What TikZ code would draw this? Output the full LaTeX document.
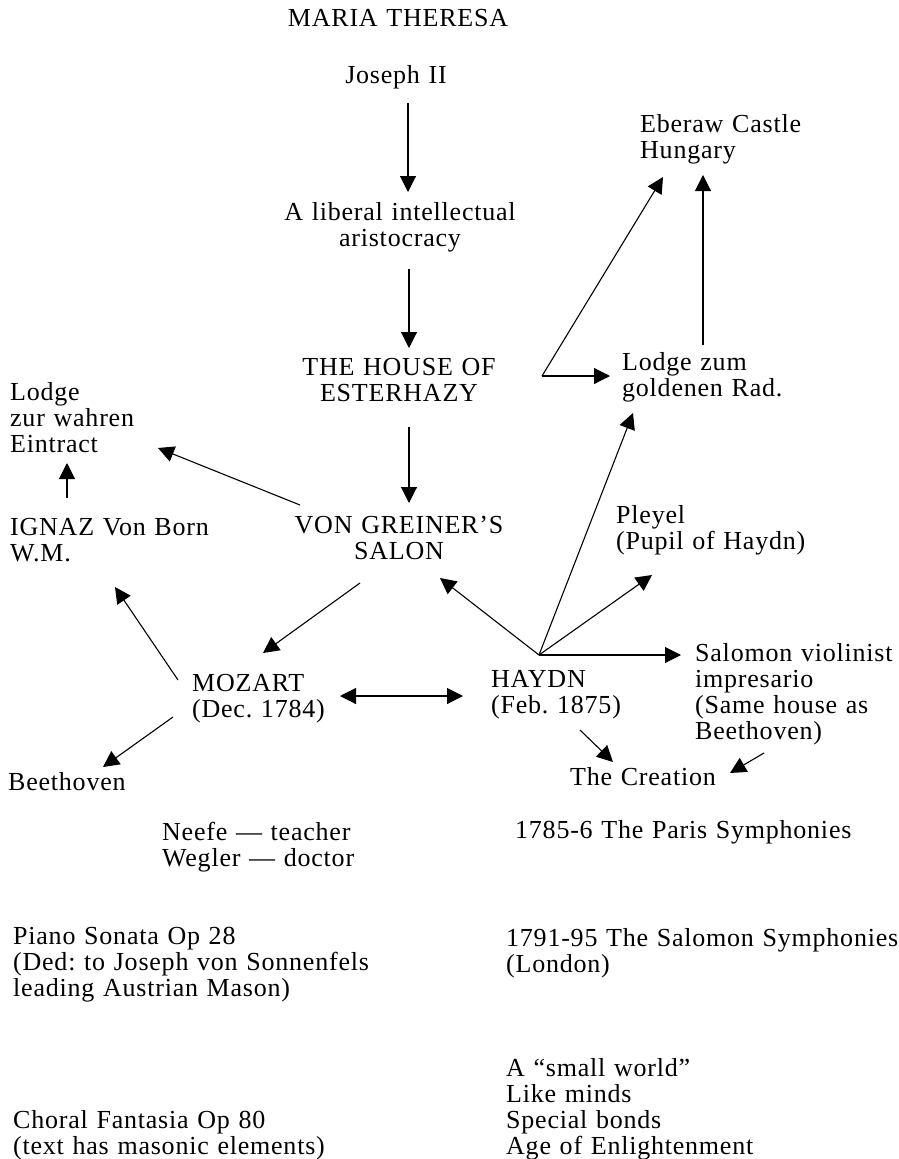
\documentclass[tikz,border=0pt]{standalone}
\usepackage{fontspec}
\setmainfont{Liberation Serif}[LetterSpace=3]
\usetikzlibrary{arrows.meta,calc}
\frenchspacing

\begin{document}
\begin{tikzpicture}[
        x=1pt, y=-1pt,
        font=\fontsize{26}{26}\selectfont,
        entry/.style={anchor=base west, align=left, text width=420pt, inner sep=0pt},
        centred/.style={anchor=base, align=center, text width=300pt, inner sep=0pt},
        link/.style={draw, line width=1.1pt, arrows={-Triangle[length=16pt,width=16pt]}},
        twoway/.style={link, arrows={Triangle[length=16pt,width=16pt]-Triangle[length=16pt,width=16pt]}}
    ]
        \useasboundingbox (0,0) rectangle (898,1159);

        % centre column
        \node[centred] (maria) at (398,27) {MARIA THERESA};
        \node[centred] (joseph) at (396,83) {Joseph II};
        \node[centred] (liberal) at (400,220) {A liberal intellectual\\aristocracy};
        \node[centred] (house) at (399,375) {THE HOUSE OF\\ESTERHAZY};
        \node[centred] (greiner) at (399,533) {VON GREINER'S\\SALON};

        % left side
        \node[entry] (wahren) at (10,400) {Lodge\\zur wahren\\Eintract};
        \node[entry] (ignaz) at (10,535) {IGNAZ Von Born\\W.M.};
        \node[entry] (mozart) at (192,691) {MOZART\\(Dec. 1784)};
        \node[entry] (beethoven) at (8,790) {Beethoven};
        \node[entry] (neefe) at (162,840) {Neefe --- teacher\\Wegler --- doctor};
        \node[entry] (piano) at (13,944) {Piano Sonata Op 28\\(Ded: to Joseph von Sonnenfels\\leading Austrian Mason)};
        \node[entry] (choral) at (13,1128) {Choral Fantasia Op 80\\(text has masonic elements)};

        % right side
        \node[entry] (eberaw) at (640,132) {Eberaw Castle\\Hungary};
        \node[entry] (golden) at (622,370) {Lodge zum\\goldenen Rad.};
        \node[entry] (pleyel) at (616,523) {Pleyel\\(Pupil of Haydn)};
        \node[entry] (salomon) at (695,661) {Salomon violinist\\impresario\\(Same house as\\Beethoven)};
        \node[entry] (haydn) at (491,687) {HAYDN\\(Feb. 1875)};
        \node[entry] (creation) at (570,785) {The Creation};
        \node[entry] (paris) at (515,838) {1785-6 The Paris Symphonies};
        \node[entry] (london) at (506,946) {1791-95 The Salomon Symphonies\\(London)};
        \node[entry] (world) at (506,1076) {A ``small world''\\Like minds\\Special bonds\\Age of Enlightenment};

        % down the middle
        \draw[link] ($(joseph.base)+(12,20)$) -- ($(liberal.base)+(8,-28)$);
        \draw[link] ($(liberal.base)+(9,49)$) -- ($(house.base)+(10,-27)$);
        \draw[link] ($(house.base)+(10,52)$) -- ($(greiner.base)+(10,-30)$);

        % salon and lodges
        \draw[link] ($(greiner.base)+(-99,-28)$) -- ($(wahren.base west)+(148,48)$);
        \draw[link] ($(ignaz.base west)+(57,-37)$) -- ($(wahren.base west)+(57,63)$);
        \draw[link] ($(greiner.base)+(-39,50)$) -- ($(mozart.base west)+(71,-38)$);
        \draw[link] ($(mozart.base west)+(-14,-11)$) -- ($(ignaz.base west)+(105,52)$);
        \draw[link] ($(mozart.base west)+(-19,26)$) -- ($(beethoven.base west)+(95,-23)$);
        \draw[twoway] ($(mozart.base west)+(148,5)$) -- ($(haydn.base west)+(-28,9)$);

        % Esterhazy fork
        \coordinate (fork) at ($(house.base)+(143,1)$);
        \draw[link] (fork) -- ($(eberaw.base west)+(23,45)$);
        \draw[link] (fork) -- ($(golden.base west)+(-12,6)$);
        \draw[link] ($(golden.base west)+(81,-25)$) -- ($(eberaw.base west)+(63,43)$);

        % Haydn fan
        \coordinate (hub) at ($(haydn.base west)+(48,-32)$);
        \draw[link] (hub) -- ($(greiner.base)+(41,45)$);
        \draw[link] (hub) -- ($(golden.base west)+(11,43)$);
        \draw[link] (hub) -- ($(pleyel.base west)+(36,52)$);
        \draw[link] (hub) -- ($(salomon.base west)+(-14,-6)$);
        \draw[link] ($(haydn.base west)+(89,43)$) -- ($(creation.base west)+(43,-23)$);
        \draw[link] ($(salomon.base west)+(69,92)$) -- ($(creation.base west)+(160,-12)$);
    \end{tikzpicture}
\end{document}
